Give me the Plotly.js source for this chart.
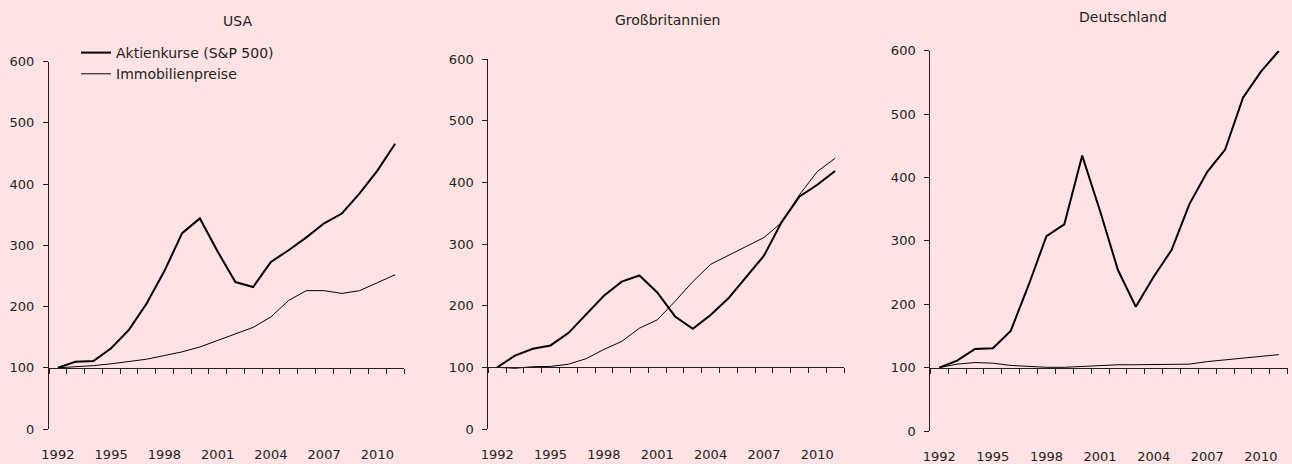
<!DOCTYPE html>
<html><head><meta charset="utf-8">
<script src="https://cdn.plot.ly/plotly-3.0.1.min.js"></script>
<style>html,body{margin:0;padding:0;background:#fee2e4;}</style>
</head><body>
<div id="chart" style="width:1292px;height:464px;"></div>
<script>
const years = [1992,1993,1994,1995,1996,1997,1998,1999,2000,2001,2002,2003,2004,2005,2006,2007,2008,2009,2010,2011];
const tickLabelYears = [1992,1995,1998,2001,2004,2007,2010];
const panelTitles = ['USA','Großbritannien','Deutschland'];
const seriesNames = ['Aktienkurse (S&P 500)','Immobilienpreise'];

const usaStocks  = [100,110,111,132,162,205,258,320,344,290,240,232,273,292,313,336,352,385,422,466];
const usaHousing = [100,101.5,103.5,106.5,110.5,114,120,126,134,145,156,166,183,210,226,226,221.5,226,239,252];
const gbStocks   = [100,119,130,135.5,155.5,185,216,239,249,221.5,182.5,162.5,185,212,247,281,336,377,396,418.5];
const gbHousing  = [100,98.5,101,101.5,105,114,129,142,163.5,177,207,239,267,281,296,310.5,335,380,417.5,439];
const deStocks   = [100,111,129.5,130.5,158,230,307.5,326,434.5,347,254,196,243.5,285.5,358,409,444,526,567,599.5];
const deHousing  = [100,105.5,108,107,103.5,101.5,100.5,100.5,102,103.5,104.5,104.5,104.5,104.5,105.5,109.5,112.5,115.5,118,120.5];
const yTicks = [0,100,200,300,400,500,600];

const W = 1292, H = 464;
const panels = [
  {stocks: usaStocks, housing: usaHousing, x: [49, 404], y: [61.7, 429]},
  {stocks: gbStocks,  housing: gbHousing,  x: [488.3, 844], y: [59, 429]},
  {stocks: deStocks,  housing: deHousing,  x: [930.3, 1287.7], y: [50.7, 431]}
];

const font = {family: 'DejaVu Sans, sans-serif', size: 12, color: '#231f20'};
const axisColor = '#231f20';
const boundaries = [];
for (let i = 0; i <= years.length; i++) boundaries.push(years[0] - 0.5 + i);
const xr = [years[0] - 0.5, years[years.length-1] + 0.5];

const traces = [];
const layout = {
  width: W, height: H,
  margin: {l:0, r:0, t:0, b:0},
  paper_bgcolor: '#fee2e4', plot_bgcolor: 'rgba(0,0,0,0)',
  font: font,
  showlegend: true,
  legend: {x: 76/W, y: 1 - 37/H, xanchor: 'left', yanchor: 'top', bgcolor: 'rgba(0,0,0,0)',
           font: {family: font.family, size: 14, color: font.color}, tracegroupgap: 0, itemwidth: 30},
  annotations: [], shapes: []
};

panels.forEach((p, i) => {
  const n = i + 1;
  const xs = n === 1 ? '' : String(n);
  const xd = [p.x[0]/W, p.x[1]/W];
  const yd = [(H - p.y[1])/H, (H - p.y[0])/H];
  const tickAxisNum = n + 3;
  const pos100 = yd[0] + (yd[1]-yd[0]) * 100/600;

  layout['xaxis' + xs] = {
    domain: xd, range: xr, anchor: 'y' + xs,
    tickmode: 'array', tickvals: tickLabelYears, ticktext: tickLabelYears.map(String),
    ticks: '', showline: false, showgrid: false, zeroline: false,
    ticklabelstandoff: 16, automargin: false, tickfont: {family: font.family, size: 13, color: font.color}
  };
  layout['xaxis' + tickAxisNum] = {
    overlaying: 'x' + xs, anchor: 'free', position: pos100, range: xr,
    tickmode: 'array', tickvals: boundaries, showticklabels: false,
    ticks: 'outside', ticklen: 5, tickwidth: 1, tickcolor: axisColor,
    showline: true, linecolor: axisColor, linewidth: 1,
    showgrid: false, zeroline: false, automargin: false
  };
  layout['yaxis' + xs] = {
    domain: yd, range: [0, 600], anchor: 'x' + xs,
    tickmode: 'array', tickvals: yTicks, ticktext: yTicks.map(String),
    ticks: 'outside', ticklen: 5, tickwidth: 1, tickcolor: axisColor,
    showline: true, linecolor: axisColor, linewidth: 1,
    showgrid: false, zeroline: false, automargin: false, ticklabelstandoff: 6,
    tickfont: {family: font.family, size: 13, color: font.color}
  };
  // empty helper trace so the overlaying tick axis (at value 100) gets drawn
  traces.push({
    x: [years[0]], y: [null], xaxis: 'x' + tickAxisNum, yaxis: 'y' + xs, type: 'scatter', mode: 'lines',
    showlegend: false, hoverinfo: 'skip'
  });
  traces.push({
    x: years, y: p.stocks, xaxis: 'x' + xs, yaxis: 'y' + xs, type: 'scatter', mode: 'lines',
    name: seriesNames[0], line: {color: '#000000', width: 2}, showlegend: i === 0, hoverinfo: 'skip'
  });
  traces.push({
    x: years, y: p.housing, xaxis: 'x' + xs, yaxis: 'y' + xs, type: 'scatter', mode: 'lines',
    name: seriesNames[1], line: {color: '#000000', width: 1}, showlegend: i === 0, hoverinfo: 'skip'
  });
});

const titleCenters = [237.7, 667, 1122.7];
const titleY = [20.7, 20, 17];
panelTitles.forEach((t, i) => {
  layout.annotations.push({
    text: t, xref: 'paper', yref: 'paper', x: titleCenters[i]/W, y: 1 - titleY[i]/H,
    xanchor: 'center', yanchor: 'middle', showarrow: false,
    font: {family: font.family, size: 14, color: font.color}
  });
});

Plotly.newPlot('chart', traces, layout, {displayModeBar: false, staticPlot: true});
</script>
</body></html>
